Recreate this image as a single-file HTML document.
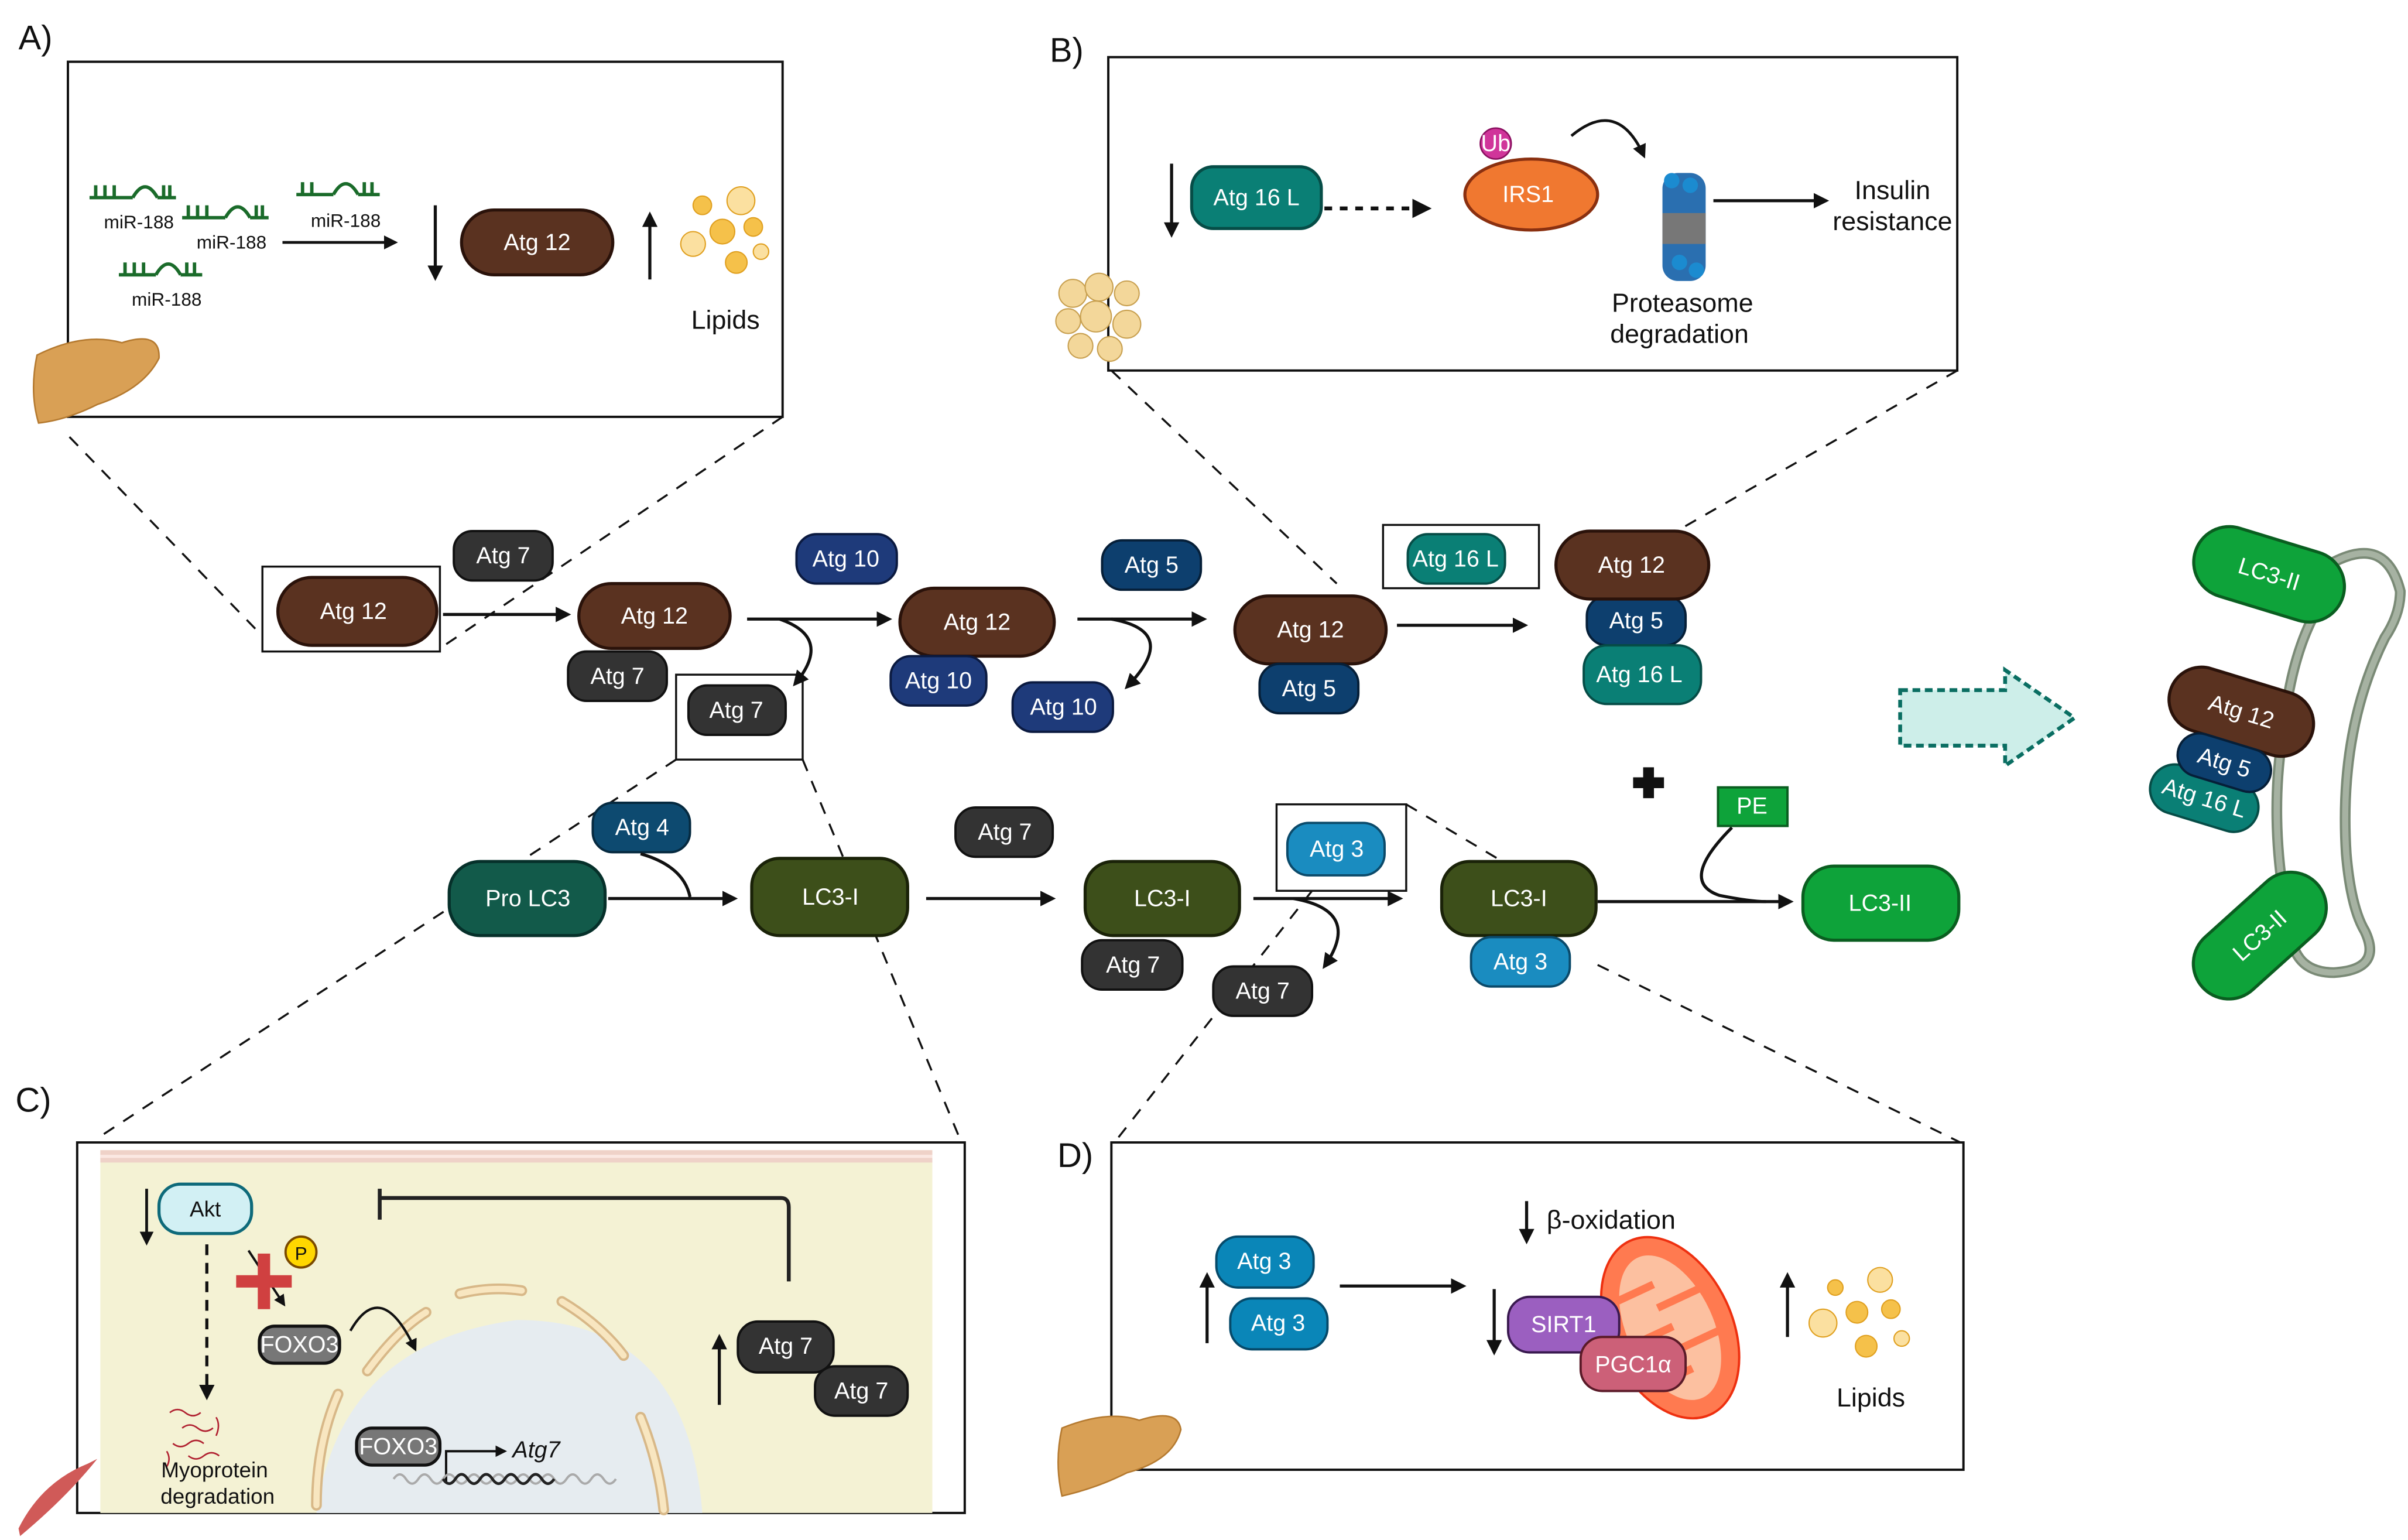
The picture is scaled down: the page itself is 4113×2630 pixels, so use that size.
<!DOCTYPE html>
<html><head><meta charset="utf-8"><style>
html,body{margin:0;padding:0;background:#fff}
svg{display:block}
text{font-family:"Liberation Sans",sans-serif}
.w{fill:#fff;font-size:15px;text-anchor:middle;dominant-baseline:central}
.b{fill:#111;font-size:17px;text-anchor:middle}
</style></head><body>
<svg width="4113" height="2630" viewBox="0 0 1560 997.5" xmlns="http://www.w3.org/2000/svg">
<defs>
<marker id="ah" viewBox="0 0 10 10" refX="8" refY="5" markerWidth="5" markerHeight="5" orient="auto-start-reverse"><path d="M0,0L10,5L0,10z" fill="#111"/></marker>
</defs>
<g fill="none" stroke="#111" stroke-width="1.3" stroke-dasharray="8,7">
<line x1="45" y1="283" x2="170" y2="412"/><line x1="507" y1="270" x2="285" y2="420"/>
<line x1="720" y1="240" x2="866" y2="378"/><line x1="1268" y1="240" x2="1088" y2="343"/>
<line x1="438" y1="492" x2="62" y2="738"/><line x1="520" y1="492" x2="622" y2="738"/>
<line x1="850" y1="577" x2="722" y2="740"/><line x1="911" y1="521" x2="970" y2="556"/><line x1="1035" y1="625" x2="1270" y2="740"/>
</g>
<!-- Box A -->
<text x="12" y="32" font-size="22" fill="#111">A)</text>
<rect x="44" y="40" width="463" height="230" fill="#fff" stroke="#111" stroke-width="1.5"/>
<g stroke="#1a6b2a" stroke-width="2.2" fill="none">
<path d="M58,128h28M62,128v-8M68,128v-8M74,128v-8M86,128q8,-14 16,0M102,128h12M106,128v-8M110,128v-8"/>
<path d="M118,141h28M122,141v-8M128,141v-8M134,141v-8M146,141q8,-14 16,0M162,141h12M166,141v-8M170,141v-8"/>
<path d="M192,126h24M196,126v-8M202,126v-8M216,126q8,-14 16,0M232,126h14M236,126v-8M241,126v-8"/>
<path d="M77,178h24M81,178v-8M87,178v-8M93,178v-8M101,178q8,-14 16,0M117,178h14M121,178v-8M126,178v-8"/>
</g>
<g font-size="12" fill="#111" text-anchor="middle"><text x="90" y="148">miR-188</text><text x="150" y="161">miR-188</text><text x="224" y="147">miR-188</text><text x="108" y="198">miR-188</text></g>
<line x1="183" y1="157" x2="256" y2="157" stroke="#111" stroke-width="1.8" marker-end="url(#ah)"/>
<line x1="282" y1="133" x2="282" y2="180" stroke="#111" stroke-width="2" marker-end="url(#ah)"/>
<rect x="299" y="136" width="98" height="42" rx="21" fill="#5a3220" stroke="#2a120a" stroke-width="2"/><text class="w" x="348" y="157" font-size="19">Atg 12</text>
<line x1="421" y1="181" x2="421" y2="139" stroke="#111" stroke-width="2" marker-end="url(#ah)"/>
<g fill="#f5c14a" stroke="#e0a020" stroke-width=".8"><circle cx="455" cy="133" r="6"/><circle cx="480" cy="130" r="9" fill="#fbe0a0"/><circle cx="468" cy="150" r="8"/><circle cx="488" cy="147" r="6"/><circle cx="449" cy="158" r="8" fill="#fbe0a0"/><circle cx="477" cy="170" r="7"/><circle cx="493" cy="163" r="5" fill="#fbe0a0"/></g>
<text x="470" y="213" font-size="17" fill="#111" text-anchor="middle">Lipids</text>
<path d="M24,230q30,-15 55,-8q25,-8 24,10q-10,20 -40,30q-20,10 -38,12q-6,-20 -1,-44z" fill="#d9a055" stroke="#b57a30"/>
<!-- Box B -->
<text x="680" y="40" font-size="22" fill="#111">B)</text>
<rect x="718" y="37" width="550" height="203" fill="#fff" stroke="#111" stroke-width="1.5"/>
<line x1="759" y1="106" x2="759" y2="152" stroke="#111" stroke-width="2" marker-end="url(#ah)"/>
<rect x="772" y="108" width="84" height="40" rx="14" fill="#0a7f75" stroke="#064d47" stroke-width="2"/><text class="w" x="814" y="128" font-size="17">Atg  16 L</text>
<line x1="858" y1="135" x2="925" y2="135" stroke="#111" stroke-width="2.5" stroke-dasharray="5,5" marker-end="url(#ah)"/>
<ellipse cx="992" cy="126" rx="43" ry="23" fill="#f07830" stroke="#8a3010" stroke-width="2"/><text class="w" x="990" y="126" font-size="18">IRS1</text>
<circle cx="969" cy="93" r="10" fill="#d0359a" stroke="#8a1060"/><text class="w" x="969" y="93" font-size="7">Ub</text>
<path d="M1018,88q30,-25 47,13" fill="none" stroke="#111" stroke-width="1.8" marker-end="url(#ah)"/>
<g><rect x="1077" y="112" width="28" height="70" rx="10" fill="#2a6fb0"/><rect x="1077" y="138" width="28" height="20" fill="#777"/><g fill="#1b8bd0"><circle cx="1083" cy="117" r="5"/><circle cx="1095" cy="120" r="5"/><circle cx="1088" cy="170" r="5"/><circle cx="1099" cy="175" r="5"/></g></g>
<line x1="1110" y1="130" x2="1183" y2="130" stroke="#111" stroke-width="2" marker-end="url(#ah)"/>
<text x="1226" y="129" font-size="17" fill="#111" text-anchor="middle">Insulin</text><text x="1226" y="149" font-size="17" fill="#111" text-anchor="middle">resistance</text>
<text x="1090" y="202" font-size="17" fill="#111" text-anchor="middle">Proteasome</text><text x="1088" y="222" font-size="17" fill="#111" text-anchor="middle">degradation</text>
<g fill="#f3d79a" stroke="#c8a050" stroke-width=".8"><circle cx="695" cy="190" r="9"/><circle cx="712" cy="186" r="9"/><circle cx="730" cy="190" r="8"/><circle cx="692" cy="208" r="8"/><circle cx="710" cy="205" r="10"/><circle cx="730" cy="210" r="9"/><circle cx="700" cy="224" r="8"/><circle cx="719" cy="226" r="8"/></g>
<!-- Main row 1 -->
<rect x="170" y="367" width="115" height="55" fill="none" stroke="#111" stroke-width="1.3"/>
<rect x="180" y="374" width="103" height="44" rx="22" fill="#5a3220" stroke="#2a120a" stroke-width="2"/><text class="w" x="229" y="396" font-size="19">Atg 12</text>
<line x1="287" y1="398" x2="368" y2="398" stroke="#111" stroke-width="2" marker-end="url(#ah)"/>
<rect x="294" y="344" width="64" height="32" rx="12" fill="#333" stroke="#111" stroke-width="1.5"/><text class="w" x="326" y="360">Atg  7</text>
<rect x="375" y="378" width="98" height="42" rx="21" fill="#5a3220" stroke="#2a120a" stroke-width="2"/><text class="w" x="424" y="399" font-size="19">Atg 12</text>
<rect x="368" y="422" width="64" height="32" rx="12" fill="#333" stroke="#111" stroke-width="1.5"/><text class="w" x="400" y="438">Atg  7</text>
<line x1="484" y1="401" x2="576" y2="401" stroke="#111" stroke-width="2" marker-end="url(#ah)"/>
<path d="M505,401q35,12 10,42" fill="none" stroke="#111" stroke-width="2" marker-end="url(#ah)"/>
<rect x="438" y="437" width="82" height="55" fill="none" stroke="#111" stroke-width="1.3"/>
<rect x="446" y="444" width="63" height="32" rx="12" fill="#333" stroke="#111" stroke-width="1.5"/><text class="w" x="477" y="460">Atg  7</text>
<rect x="516" y="346" width="65" height="32" rx="13" fill="#1e3a7a" stroke="#0b1a40" stroke-width="1.5"/><text class="w" x="548" y="362">Atg  10</text>
<rect x="583" y="381" width="100" height="44" rx="22" fill="#5a3220" stroke="#2a120a" stroke-width="2"/><text class="w" x="633" y="403" font-size="19">Atg 12</text>
<rect x="577" y="425" width="62" height="32" rx="13" fill="#1e3a7a" stroke="#0b1a40" stroke-width="1.5"/><text class="w" x="608" y="441">Atg  10</text>
<line x1="698" y1="401" x2="780" y2="401" stroke="#111" stroke-width="2" marker-end="url(#ah)"/>
<path d="M720,401q45,8 10,44" fill="none" stroke="#111" stroke-width="2" marker-end="url(#ah)"/>
<rect x="656" y="442" width="65" height="32" rx="13" fill="#1e3a7a" stroke="#0b1a40" stroke-width="1.5"/><text class="w" x="689" y="458">Atg  10</text>
<rect x="714" y="350" width="64" height="32" rx="13" fill="#0d3f6e" stroke="#061f38" stroke-width="1.5"/><text class="w" x="746" y="366">Atg  5</text>
<rect x="800" y="386" width="98" height="44" rx="22" fill="#5a3220" stroke="#2a120a" stroke-width="2"/><text class="w" x="849" y="408" font-size="19">Atg 12</text>
<rect x="816" y="430" width="64" height="32" rx="13" fill="#0d3f6e" stroke="#061f38" stroke-width="1.5"/><text class="w" x="848" y="446">Atg  5</text>
<line x1="905" y1="405" x2="988" y2="405" stroke="#111" stroke-width="2" marker-end="url(#ah)"/>
<rect x="896" y="340" width="101" height="41" fill="#fff" stroke="#111" stroke-width="1.3"/>
<rect x="912" y="346" width="63" height="32" rx="13" fill="#0a7f75" stroke="#064d47" stroke-width="1.5"/><text class="w" x="943" y="362" font-size="12">Atg  16 L</text>
<rect x="1028" y="386" width="64" height="32" rx="13" fill="#0d3f6e" stroke="#061f38" stroke-width="1.5"/><text class="w" x="1060" y="402">Atg  5</text>
<rect x="1026" y="418" width="76" height="38" rx="15" fill="#0a7f75" stroke="#064d47" stroke-width="1.5"/><text class="w" x="1062" y="437">Atg  16 L</text>
<rect x="1008" y="344" width="99" height="44" rx="22" fill="#5a3220" stroke="#2a120a" stroke-width="2"/><text class="w" x="1057" y="366" font-size="19">Atg 12</text>
<!-- row 2 -->
<rect x="384" y="520" width="63" height="32" rx="13" fill="#0d4a70" stroke="#062a40" stroke-width="1.5"/><text class="w" x="416" y="536">Atg 4</text>
<rect x="291" y="558" width="101" height="48" rx="20" fill="#125a4a" stroke="#06302a" stroke-width="2"/><text class="w" x="342" y="582">Pro LC3</text>
<line x1="394" y1="582" x2="476" y2="582" stroke="#111" stroke-width="2" marker-end="url(#ah)"/>
<path d="M415,553q28,8 32,28" fill="none" stroke="#111" stroke-width="2"/>
<rect x="487" y="556" width="101" height="50" rx="18" fill="#3d4f1a" stroke="#1a2208" stroke-width="2"/><text class="w" x="538" y="581">LC3-I</text>
<line x1="600" y1="582" x2="682" y2="582" stroke="#111" stroke-width="2" marker-end="url(#ah)"/>
<rect x="619" y="523" width="63" height="32" rx="13" fill="#333" stroke="#111" stroke-width="1.5"/><text class="w" x="651" y="539">Atg  7</text>
<rect x="703" y="558" width="100" height="48" rx="18" fill="#3d4f1a" stroke="#1a2208" stroke-width="2"/><text class="w" x="753" y="582">LC3-I</text>
<rect x="701" y="609" width="65" height="32" rx="13" fill="#333" stroke="#111" stroke-width="1.5"/><text class="w" x="734" y="625">Atg  7</text>
<rect x="827" y="521" width="84" height="56" fill="#fff" stroke="#111" stroke-width="1.3"/>
<rect x="834" y="533" width="63" height="34" rx="14" fill="#1a8cc0" stroke="#0b4a6a" stroke-width="1.5"/><text class="w" x="866" y="550">Atg  3</text>
<line x1="812" y1="582" x2="907" y2="582" stroke="#111" stroke-width="2" marker-end="url(#ah)"/>
<path d="M838,582q45,8 20,44" fill="none" stroke="#111" stroke-width="2" marker-end="url(#ah)"/>
<rect x="786" y="626" width="64" height="32" rx="13" fill="#333" stroke="#111" stroke-width="1.5"/><text class="w" x="818" y="642">Atg  7</text>
<rect x="934" y="558" width="100" height="48" rx="18" fill="#3d4f1a" stroke="#1a2208" stroke-width="2"/><text class="w" x="984" y="582">LC3-I</text>
<rect x="953" y="607" width="64" height="32" rx="13" fill="#1a8cc0" stroke="#0b4a6a" stroke-width="1.5"/><text class="w" x="985" y="623">Atg  3</text>
<line x1="1035" y1="584" x2="1160" y2="584" stroke="#111" stroke-width="2" marker-end="url(#ah)"/>
<path d="M1122,536q-35,35 -8,44q20,4 30,4" fill="none" stroke="#111" stroke-width="2"/>
<rect x="1113" y="510" width="45" height="25" fill="#0ea33a" stroke="#0a5e20" stroke-width="1.5"/><text class="w" x="1135" y="522" font-size="13">PE</text>
<path d="M1058,507h20M1068,497v20" stroke="#111" stroke-width="7"/>
<rect x="1168" y="561" width="101" height="48" rx="20" fill="#0ea33a" stroke="#0a5e20" stroke-width="2"/><text class="w" x="1218" y="585">LC3-II</text>
<!-- dotted arrow -->
<path d="M1231,447h68v-13l45,31l-45,31v-13h-68z" fill="#cdeee9" stroke="#0a6e62" stroke-width="2.5" stroke-dasharray="5,3"/>
<!-- right complex -->
<path d="M1505,368q40,-25 50,15q0,15 -10,30q-30,60 -25,140q3,35 12,50q12,25 -20,27q-25,0 -28,-25q-15,-70 -5,-130q5,-50 22,-80" fill="none" stroke="#7a8a76" stroke-width="7"/>
<path d="M1505,368q40,-25 50,15q0,15 -10,30q-30,60 -25,140q3,35 12,50q12,25 -20,27q-25,0 -28,-25q-15,-70 -5,-130q5,-50 22,-80" fill="none" stroke="#a6b2a2" stroke-width="4"/>
<g transform="translate(1470,372) rotate(17)"><rect x="-50" y="-23" width="100" height="46" rx="23" fill="#0ea33a" stroke="#0a5e20" stroke-width="2"/><text class="w" x="0" y="0" font-size="14">LC3-II</text></g>
<g transform="translate(1452,461) rotate(17)"><rect x="-48" y="-21" width="96" height="42" rx="21" fill="#5a3220" stroke="#2a120a" stroke-width="2"/><text class="w" x="0" y="0" font-size="18">Atg 12</text></g>
<g transform="translate(1428,517) rotate(17)"><rect x="-36" y="-16" width="72" height="32" rx="16" fill="#0a7f75" stroke="#064d47" stroke-width="1.5"/><text class="w" x="0" y="0" font-size="14">Atg  16 L</text></g>
<g transform="translate(1441,494) rotate(17)"><rect x="-31" y="-14" width="62" height="28" rx="14" fill="#0d3f6e" stroke="#061f38" stroke-width="1.5"/><text class="w" x="0" y="0" font-size="14">Atg  5</text></g>
<g transform="translate(1464,606) rotate(-42)"><rect x="-50" y="-23" width="100" height="46" rx="23" fill="#0ea33a" stroke="#0a5e20" stroke-width="2"/><text class="w" x="0" y="0" font-size="14">LC3-II</text></g>
<!-- Box C -->
<text x="10" y="720" font-size="22" fill="#111">C)</text>
<rect x="50" y="740" width="575" height="240" fill="#fff" stroke="#111" stroke-width="1.5"/>
<rect x="65" y="745" width="539" height="235" fill="#f4f2d4"/>
<rect x="65" y="745" width="539" height="8" fill="#efd2c8"/><rect x="65" y="748" width="539" height="2" fill="#fbe8e2"/>
<path d="M205,980q15,-110 130,-125q110,0 120,125z" fill="#e6ecf0"/>
<g fill="none" stroke="#d8b888" stroke-width="7" stroke-linecap="round"><path d="M205,975q0,-40 14,-72"/><path d="M238,888q20,-27 38,-38"/><path d="M298,838q20,-5 40,-2"/><path d="M364,843q25,15 40,35"/><path d="M415,918q12,30 15,60"/></g>
<g fill="none" stroke="#f8e6c0" stroke-width="4" stroke-linecap="round"><path d="M205,975q0,-40 14,-72"/><path d="M238,888q20,-27 38,-38"/><path d="M298,838q20,-5 40,-2"/><path d="M364,843q25,15 40,35"/><path d="M415,918q12,30 15,60"/></g>
<line x1="95" y1="770" x2="95" y2="805" stroke="#111" stroke-width="1.8" marker-end="url(#ah)"/>
<rect x="103" y="767" width="60" height="32" rx="14" fill="#d2f0f4" stroke="#0e6a7a" stroke-width="2"/><text x="133" y="788" font-size="14" fill="#111" text-anchor="middle">Akt</text>
<line x1="134" y1="806" x2="134" y2="905" stroke="#111" stroke-width="2" stroke-dasharray="7,5" marker-end="url(#ah)"/>
<line x1="161" y1="810" x2="184" y2="845" stroke="#111" stroke-width="1.5" marker-end="url(#ah)"/>
<path d="M167,812h8v14h14v8h-14v14h-8v-14h-14v-8h14z" fill="#d04040"/>
<circle cx="195" cy="811" r="10" fill="#ffd700" stroke="#7a4a00" stroke-width="1.5"/><text x="195" y="816" font-size="12" text-anchor="middle" fill="#111">P</text>
<rect x="168" y="859" width="52" height="24" rx="10" fill="#777" stroke="#111" stroke-width="2"/><text class="w" x="194" y="871" font-size="12">FOXO3</text>
<path d="M227,862q20,-35 42,12" fill="none" stroke="#111" stroke-width="1.6" marker-end="url(#ah)"/>
<rect x="231" y="925" width="54" height="24" rx="10" fill="#777" stroke="#111" stroke-width="2"/><text class="w" x="258" y="937" font-size="12">FOXO3</text>
<path d="M289,960v-20h38" fill="none" stroke="#111" stroke-width="1.5" marker-end="url(#ah)"/>
<text x="332" y="944" font-size="15" font-style="italic" fill="#111">Atg7</text>
<path d="M255,958q4,-6 8,0t8,0t8,0t8,0t8,0t8,0t8,0t8,0t8,0t8,0t8,0t8,0t8,0t8,0t8,0t8,0t8,0t8,0" fill="none" stroke="#aaa" stroke-width="1.5"/>
<path d="M287,958q4,6 8,0t8,0t8,0t8,0t8,0t8,0t8,0t8,0t8,0" fill="none" stroke="#222" stroke-width="1.8"/>
<g fill="none" stroke="#b02030" stroke-width="1"><path d="M110,915q5,-4 10,0t10,0"/><path d="M118,925q5,-4 10,0t10,0"/><path d="M112,935q5,4 10,0t10,0"/><path d="M122,943q5,4 10,0t10,0"/><path d="M140,918q3,5 0,12"/><path d="M108,940q3,5 0,10"/></g>
<text x="139" y="957" font-size="14" fill="#111" text-anchor="middle">Myoprotein</text><text x="141" y="974" font-size="14" fill="#111" text-anchor="middle">degradation</text>
<path d="M12,990q15,-30 45,-42l6,-3q-20,25 -50,50z" fill="#d05a58"/>
<path d="M246,770v20M246,776h260q5,0 5,6v48" fill="none" stroke="#222" stroke-width="2.5"/>
<line x1="466" y1="910" x2="466" y2="866" stroke="#111" stroke-width="2" marker-end="url(#ah)"/>
<rect x="478" y="856" width="62" height="33" rx="13" fill="#333" stroke="#111" stroke-width="1.5"/><text class="w" x="509" y="872">Atg  7</text>
<rect x="528" y="885" width="60" height="32" rx="13" fill="#333" stroke="#111" stroke-width="1.5"/><text class="w" x="558" y="901">Atg  7</text>
<!-- Box D -->
<text x="685" y="756" font-size="22" fill="#111">D)</text>
<rect x="720" y="740" width="552" height="212" fill="#fff" stroke="#111" stroke-width="1.5"/>
<line x1="782" y1="870" x2="782" y2="826" stroke="#111" stroke-width="2" marker-end="url(#ah)"/>
<rect x="788" y="801" width="63" height="33" rx="14" fill="#0a86b8" stroke="#064a6a" stroke-width="1.5"/><text class="w" x="819" y="817">Atg  3</text>
<rect x="797" y="841" width="63" height="33" rx="14" fill="#0a86b8" stroke="#064a6a" stroke-width="1.5"/><text class="w" x="828" y="857">Atg  3</text>
<line x1="868" y1="833" x2="948" y2="833" stroke="#111" stroke-width="2" marker-end="url(#ah)"/>
<line x1="989" y1="778" x2="989" y2="804" stroke="#111" stroke-width="2" marker-end="url(#ah)"/>
<text x="1002" y="796" font-size="17" fill="#111">β-oxidation</text>
<g transform="translate(1082,860) rotate(-25)"><ellipse rx="40" ry="62" fill="#ff7a50" stroke="#ee3010" stroke-width="1.5"/><ellipse rx="28" ry="50" fill="#fcc0a0"/><path d="M-28,-30h30M28,-15h-30M-28,0h30M28,15h-30M-28,30h30" stroke="#ff7a50" stroke-width="5"/></g>
<line x1="968" y1="835" x2="968" y2="876" stroke="#111" stroke-width="2" marker-end="url(#ah)"/>
<rect x="977" y="840" width="72" height="36" rx="14" fill="#9b5fc0" stroke="#3a1a50" stroke-width="1.5"/><text class="w" x="1013" y="858" font-size="13">SIRT1</text>
<rect x="1024" y="866" width="68" height="35" rx="14" fill="#cc6078" stroke="#5a1a28" stroke-width="1.5"/><text class="w" x="1058" y="884" font-size="13">PGC1α</text>
<line x1="1158" y1="866" x2="1158" y2="826" stroke="#111" stroke-width="2" marker-end="url(#ah)"/>
<g fill="#f5c14a" stroke="#e0a020" stroke-width=".8"><circle cx="1189" cy="834" r="5"/><circle cx="1218" cy="829" r="8" fill="#fbe0a0"/><circle cx="1203" cy="850" r="7"/><circle cx="1225" cy="848" r="6"/><circle cx="1181" cy="857" r="9" fill="#fbe0a0"/><circle cx="1209" cy="872" r="7"/><circle cx="1232" cy="867" r="5" fill="#fbe0a0"/></g>
<text x="1212" y="911" font-size="17" fill="#111" text-anchor="middle">Lipids</text>
<path d="M688,925q30,-12 50,-5q25,-8 27,6q-5,20 -35,28q-20,10 -42,15q-5,-22 0,-44z" fill="#d9a055" stroke="#b57a30"/>
</svg>
</body></html>
